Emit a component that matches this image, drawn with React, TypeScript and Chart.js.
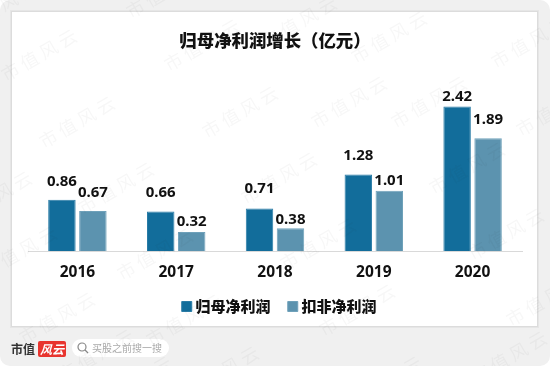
import React, { useEffect, useRef } from "react";
import { Chart, registerables } from "chart.js";

Chart.register(...registerables);

const categories = ["2016", "2017", "2018", "2019", "2020"];
const netProfit = [0.86, 0.66, 0.71, 1.28, 2.42];
const deductedProfit = [0.67, 0.32, 0.38, 1.01, 1.89];
const seriesNames = ["归母净利润", "扣非净利润"];
const chartTitle = "归母净利润增长（亿元）";
const labelLift = [
  [18, 19, 20, 19, 10],
  [18, 10, 9, 10, 18],
];
const watermarkSpots: [number, number][] = [
  [40, 53], [78, 120], [117, 186], [0, 5], [156, 252], [20, 250], [-5, 195], [58, 316], [97, 353],
  [203, 43], [241, 110], [280, 176], [319, 242], [358, 308], [165, -10], [185, 318], [222, 370],
  [390, 35], [350, 100], [430, 100], [468, 166], [507, 232], [545, 298], [385, 380], [510, 355],
  [530, 40], [555, 108], [300, 20], [135, 380],
];

const FONT = '"Noto Sans CJK SC", "Noto Sans", sans-serif';
const NUM = '"Noto Sans", sans-serif';

const valueLabels = {
  id: "valueLabels",
  afterLayout(chart: any) {
    chart.legend.left += 6;
    chart.legend.right += 6;
  },
  afterDatasetsDraw(chart: any) {
    const { ctx } = chart;
    ctx.save();
    ctx.font = `bold 15px ${NUM}`;
    ctx.fillStyle = "#111111";
    ctx.textAlign = "center";
    ctx.textBaseline = "middle";
    chart.data.datasets.forEach((ds: any, i: number) => {
      chart.getDatasetMeta(i).data.forEach((bar: any, j: number) => {
        ctx.fillText(ds.data[j].toFixed(2), bar.x, bar.y - labelLift[i][j]);
      });
    });
    ctx.restore();
  },
};

export default function App() {
  const ref = useRef<HTMLCanvasElement>(null);
  useEffect(() => {
    const chart = new Chart(ref.current!, {
      type: "bar",
      data: {
        labels: categories,
        datasets: [
          { label: seriesNames[0], data: netProfit, backgroundColor: "#126D9B", borderColor: "#2A7CA6", borderWidth: 1, categoryPercentage: 0.627, barPercentage: 0.887 },
          { label: seriesNames[1], data: deductedProfit, backgroundColor: "#5C93AF", borderColor: "#6FA1BA", borderWidth: 1, categoryPercentage: 0.627, barPercentage: 0.887 },
        ],
      },
      options: {
        responsive: false,
        animation: false,
        layout: { padding: { left: 28, right: 28, top: 0, bottom: 42 } },
        plugins: {
          tooltip: { enabled: false },
          title: {
            display: true,
            text: chartTitle,
            color: "#111111",
            font: { family: FONT, size: 17.4, weight: "900", lineHeight: 1.2 },
            padding: { top: 30, bottom: 21 },
          },
          legend: {
            position: "bottom",
            labels: {
              usePointStyle: true,
              pointStyle: "rect",
              boxWidth: 2.5,
              boxHeight: 10,
              padding: 21,
              color: "#111111",
              font: { family: FONT, size: 15, weight: "900" },
            },
          },
        },
        scales: {
          x: {
            afterFit(scale: any) { scale.height = 27; },
            grid: { display: false },
            border: { color: "#d9d9d9", width: 1 },
            ticks: { color: "#111111", font: { family: NUM, size: 15.5, weight: "bold" }, padding: 4, maxRotation: 0 },
          },
          y: { display: false, min: 0, max: 3 },
        },
      },
      plugins: [valueLabels],
    } as any);
    return () => chart.destroy();
  }, []);

  return (
    <div style={{ position: "fixed", left: 0, top: 0, width: 550, height: 366, background: "#ffffff", overflow: "hidden" }}>
      <div style={{ position: "absolute", inset: 0, background: "#f0f0f0", borderRadius: 10 }} />
      <div style={{ position: "absolute", left: 11, top: 11, width: 525, height: 314, background: "#ffffff", border: "1px solid #dcdcdc", boxShadow: "0 0 0 1px #e6e6e6" }} />
      <canvas ref={ref} width={550} height={366} style={{ position: "absolute", left: 0, top: 0, width: 550, height: 366 }} />
      <div style={{ position: "absolute", left: 11, top: 339, font: `bold 12px/20px ${FONT}`, color: "#333333", letterSpacing: 0 }}>市值</div>
      <div style={{ position: "absolute", left: 38, top: 341, width: 28, height: 16, background: "#e8352f", borderRadius: 2, color: "#ffffff", font: `italic bold 12px/16px ${FONT}`, textAlign: "center" }}>风云</div>
      <div style={{ position: "absolute", left: 72, top: 339, width: 97, height: 18, background: "#ffffff", borderRadius: 9 }}>
        <svg width="12" height="12" viewBox="0 0 12 12" style={{ position: "absolute", left: 5, top: 3 }}>
          <circle cx="5" cy="5" r="4" fill="none" stroke="#888888" strokeWidth="1.2" />
          <line x1="8" y1="8" x2="11" y2="11" stroke="#888888" strokeWidth="1.2" />
        </svg>
        <span style={{ position: "absolute", left: 20, top: 0, font: `10px/18px ${FONT}`, color: "#aaaaaa", whiteSpace: "nowrap" }}>买股之前搜一搜</span>
      </div>
      {watermarkSpots.map(([x, y], i) => (
        <div key={i} style={{ position: "absolute", left: x - 50, top: y - 12, width: 100, height: 24, textAlign: "center", font: `18px/24px ${FONT}`, letterSpacing: 4, color: "rgba(60,60,60,0.04)", transform: "rotate(-30deg)", whiteSpace: "nowrap", pointerEvents: "none" }}>市值风云</div>
      ))}
    </div>
  );
}
